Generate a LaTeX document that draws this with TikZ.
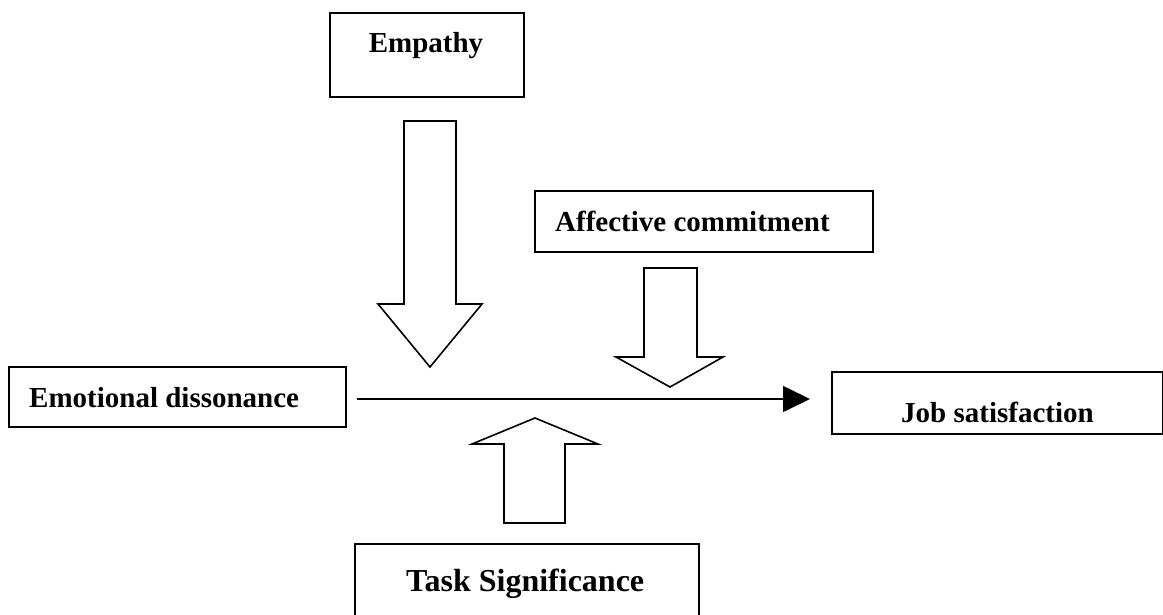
\documentclass[tikz,border=0pt]{standalone}
\usepackage{fontspec}
\setmainfont{Liberation Serif}
\usetikzlibrary{arrows.meta}

\tikzset{
  box/.style={draw=black, line width=2pt, fill=white, inner sep=0pt, anchor=north west},
  label/.style={inner sep=0pt, font=\bfseries\fontsize{29}{34}\selectfont},
  biglabel/.style={inner sep=0pt, font=\bfseries\fontsize{32}{38}\selectfont},
  blockarrow/.style={draw=black, line width=1.6pt, fill=white, line join=miter},
  mainarrow/.style={draw=black, line width=1.7pt, -{Triangle[length=27pt,width=26pt]}}
}

\begin{document}
\begin{tikzpicture}[x=1pt, y=-1pt]
  \useasboundingbox (0,0) rectangle (1163,614);
  \clip (0,0) rectangle (1163,614);

  % boxes
  \node[box, minimum width=194pt, minimum height=84pt]  (emp)  at (329,12)  {};
  \node[box, minimum width=338pt, minimum height=61pt]  (aff)  at (534,190) {};
  \node[box, minimum width=337pt, minimum height=60pt]  (emo)  at (8,366)   {};
  \node[box, minimum width=331pt, minimum height=62pt]  (job)  at (831,371) {};
  \node[box, minimum width=344pt, minimum height=80pt]  (task) at (354,543) {};

  % box texts
  \node[label, anchor=base]         (empT)  at (426,52)  {Empathy};
  \node[label, anchor=base west]    (affT)  at (555,231) {Affective commitment};
  \node[label, anchor=base west]    (emoT)  at (29,407)  {Emotional dissonance};
  \node[label, anchor=base west]    (jobT)  at (901,422) {Job satisfaction};
  \node[biglabel, anchor=base west] (taskT) at (406,591) {Task Significance};

  % main relation
  \coordinate (lineY) at (0,399);
  \draw[mainarrow] ([xshift=10pt]emo.east |- lineY) -- ([xshift=-21pt]job.west |- lineY);

  % moderating block arrows
  \draw[blockarrow] (404,121) -- (456,121) -- (456,304) -- (482,304) -- (430,367)
    -- (378,304) -- (404,304) -- cycle;
  \draw[blockarrow] (644,268) -- (697,268) -- (697,357) -- (723,357) -- (670,387)
    -- (616,357) -- (644,357) -- cycle;
  \draw[blockarrow] (504,523) -- (565,523) -- (565,444) -- (598,444) -- (535,418)
    -- (472,444) -- (504,444) -- cycle;
\end{tikzpicture}
\end{document}
